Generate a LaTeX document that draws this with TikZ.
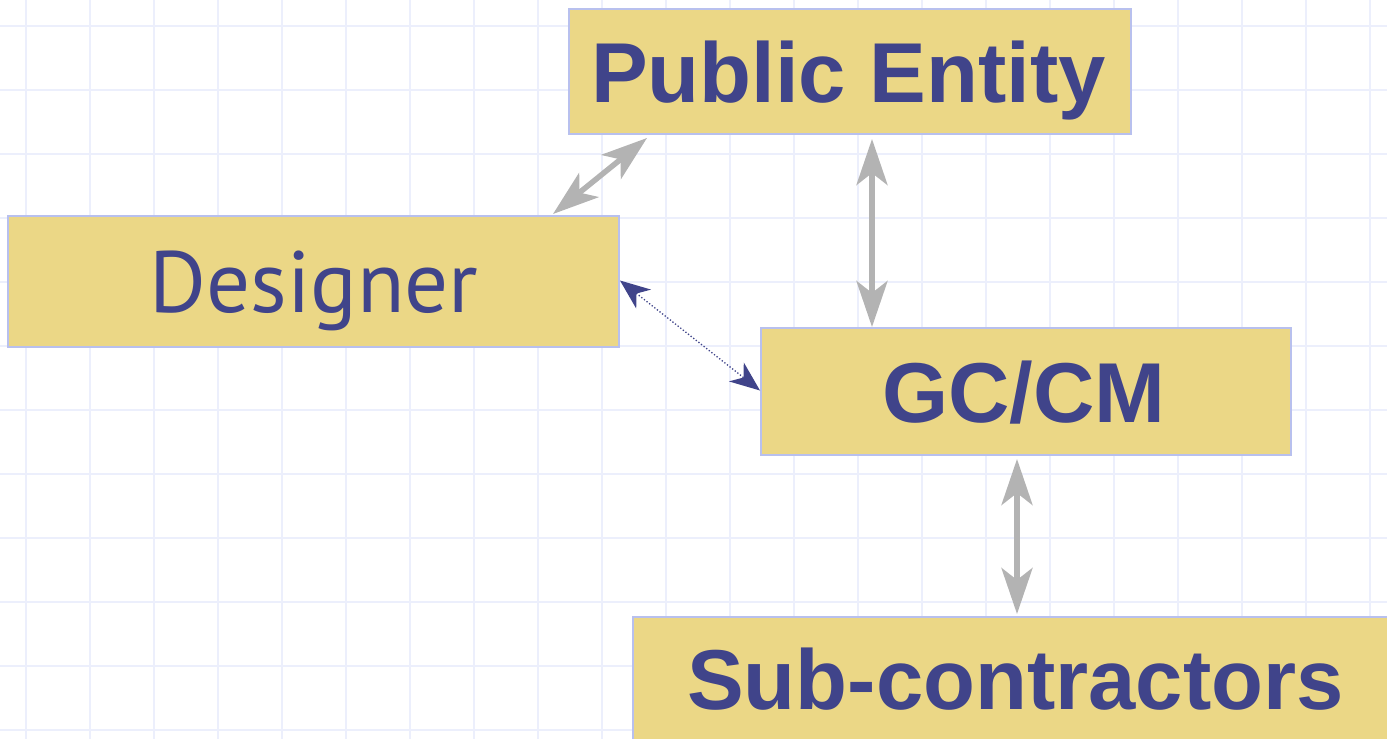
\documentclass[tikz,border=0pt]{standalone}
\usepackage{fontspec}
\usetikzlibrary{arrows.meta,calc}
\newfontfamily\headfont{Liberation Sans}
\newfontfamily\plainfont{PT Sans}
\definecolor{boxfill}{RGB}{235,215,134}
\definecolor{boxline}{RGB}{184,192,238}
\definecolor{inkblue}{RGB}{64,68,138}
\definecolor{gridline}{RGB}{236,239,252}
\definecolor{linkgrey}{RGB}{179,179,179}
\tikzset{
  box/.style={rectangle, fill=boxfill, draw=boxline, line width=2pt, inner sep=0pt},
  bigtitle/.style={anchor=base, inner sep=0pt, text=inkblue, font=\headfont\bfseries\fontsize{85}{100}\selectfont},
  lighttitle/.style={anchor=base, inner sep=0pt, text=inkblue, font=\plainfont\fontsize{87}{100}\selectfont},
  greylink/.style={draw=linkgrey, line width=5.5pt,
    {Stealth[length=46pt, width=31pt, inset=12pt]}-{Stealth[length=46pt, width=31pt, inset=12pt]}},
  navylink/.style={draw=inkblue, line width=1.3pt, dotted,
    {Stealth[length=30pt, width=24pt, inset=9pt]}-{Stealth[length=30pt, width=24pt, inset=9pt]}}
}
\begin{document}
\begin{tikzpicture}[x=1pt, y=-1pt]
  \useasboundingbox (0,0) rectangle (1387,739);
  \begin{scope}
    \clip (0,0) rectangle (1387,739);
    % background grid
    \foreach \k in {0,...,21} {
      \draw[gridline, line width=1.5pt] ({26+64*\k},0) -- ({26+64*\k},739);
    }
    \foreach \k in {0,...,11} {
      \draw[gridline, line width=1.5pt] (0,{26+64*\k}) -- (1387,{26+64*\k});
    }
    % boxes
    \node[box, minimum width=562pt, minimum height=125pt] (pe) at (850,71.5) {};
    \node[box, minimum width=611pt, minimum height=131pt] (des) at (313.5,281.5) {};
    \node[box, minimum width=530pt, minimum height=127pt] (gc) at (1026,391.5) {};
    \node[box, minimum width=800pt, minimum height=160pt] (sub) at (1033,697) {};
    % labels
    \node[bigtitle] (peT) at (848.5,102) {Public Entity};
    \node[lighttitle] (desT) at (314,312) {Designer};
    \node[bigtitle] (gcT) at (1024,422) {GC/CM};
    \node[bigtitle] (subT) at (1015.5,709) {Sub-contractors};
    % links
    \draw[greylink] ([xshift=546pt, yshift=1pt]des.north west) -- ([xshift=79pt, yshift=-3pt]pe.south west);
    \draw[greylink] ([xshift=304pt, yshift=-4pt]pe.south west) -- ([xshift=112pt, yshift=0pt]gc.north west);
    \draw[greylink] ([xshift=257pt, yshift=-3pt]gc.south west) -- ([xshift=385pt, yshift=2pt]sub.north west);
    \draw[navylink] ([yshift=1pt]des.east) -- ([yshift=1pt]gc.west);
  \end{scope}
\end{tikzpicture}
\end{document}
